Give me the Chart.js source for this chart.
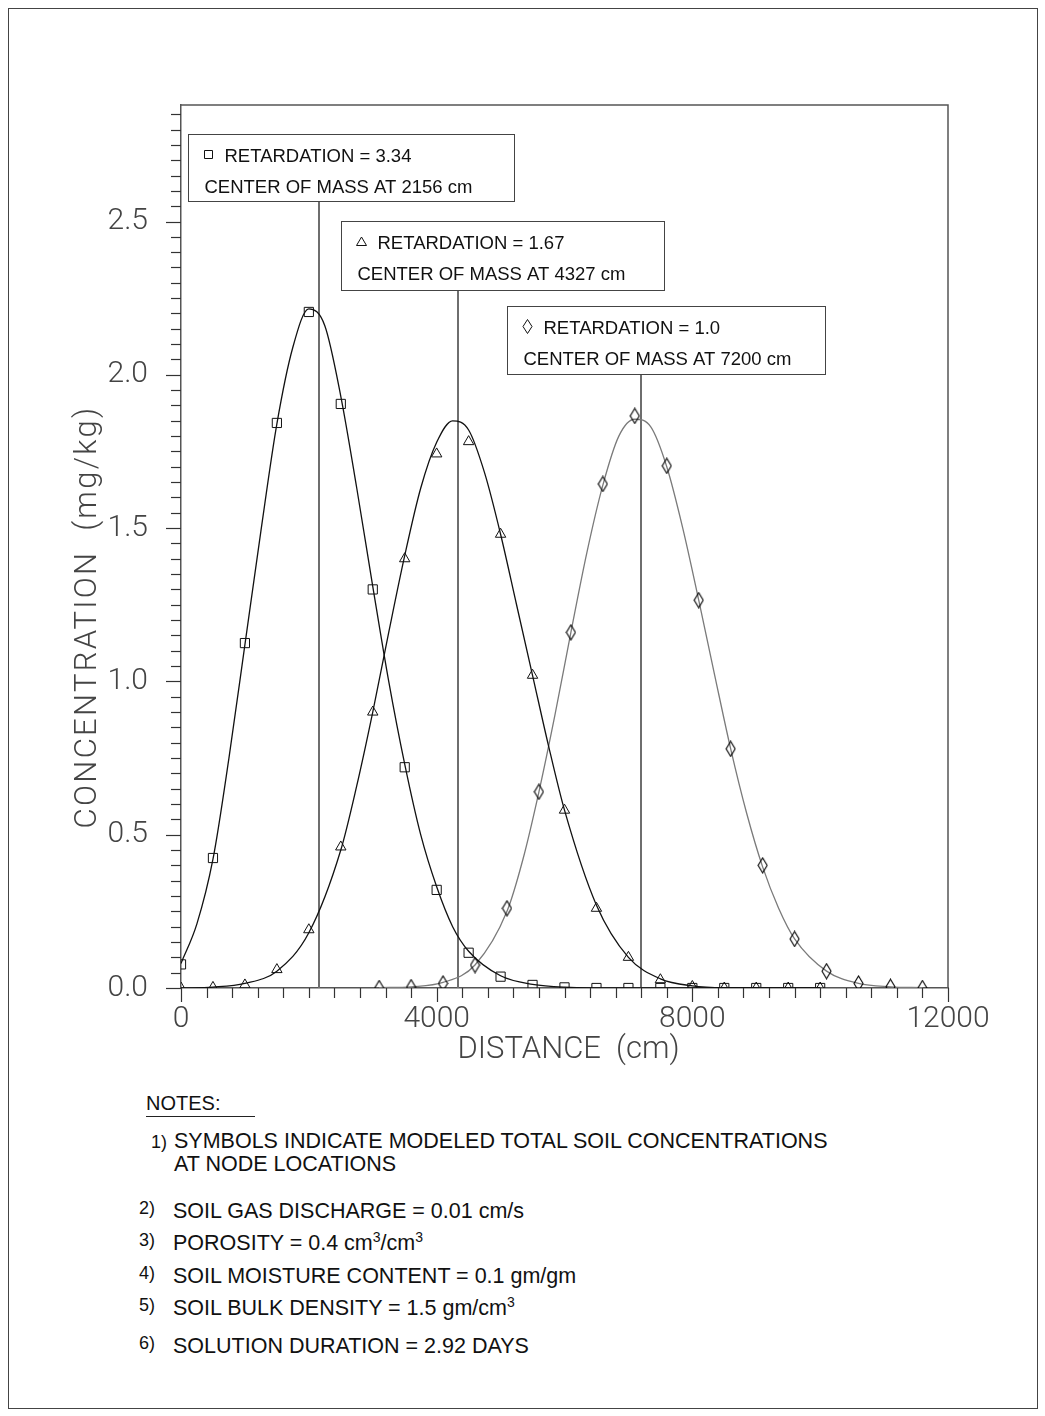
<!DOCTYPE html>
<html>
<head>
<meta charset="utf-8">
<script src="https://cdn.jsdelivr.net/npm/chart.js@4.4.1/dist/chart.umd.min.js"></script>
<style>
  body { margin: 0; background: #fff; width: 1045px; height: 1416px; position: relative;
         font-family: "Liberation Sans", Arial, sans-serif; color: #111; }
  #frame { position: absolute; left: 8px; top: 8px; width: 1028px; height: 1399px; border: 1px solid #444; }
  #wrap { position: absolute; left: 0; top: 0; width: 1045px; height: 1080px; }
  .note { position: absolute; font-size: 21.5px; line-height: 21px; white-space: nowrap; }
  .num { position: absolute; font-size: 18px; line-height: 18px; }
  sup { font-size: 14px; vertical-align: 8px; line-height: 0; }
  #notes-head { position: absolute; left: 146px; top: 1093px; font-size: 20px; line-height: 20px;
                width: 109px; border-bottom: 1px solid #222; padding-bottom: 3px; }
</style>
</head>
<body>
<div id="frame"></div>
<div id="wrap"><canvas id="chart-conc" width="1045" height="1080"></canvas></div>

<div id="notes-head">NOTES:</div>
<div class="num" style="left:151px; top:1133px">1)</div>
<div class="note" style="left:174px; top:1131px">SYMBOLS INDICATE MODELED TOTAL SOIL CONCENTRATIONS</div>
<div class="note" style="left:174px; top:1154px">AT NODE LOCATIONS</div>
<div class="num" style="left:139px; top:1199px">2)</div>
<div class="note" style="left:173px; top:1201px">SOIL GAS DISCHARGE = 0.01 cm/s</div>
<div class="num" style="left:139px; top:1231px">3)</div>
<div class="note" style="left:173px; top:1233px">POROSITY = 0.4 cm<sup>3</sup>/cm<sup>3</sup></div>
<div class="num" style="left:139px; top:1264px">4)</div>
<div class="note" style="left:173px; top:1266px">SOIL MOISTURE CONTENT = 0.1 gm/gm</div>
<div class="num" style="left:139px; top:1296px">5)</div>
<div class="note" style="left:173px; top:1298px">SOIL BULK DENSITY = 1.5 gm/cm<sup>3</sup></div>
<div class="num" style="left:139px; top:1334px">6)</div>
<div class="note" style="left:173px; top:1336px">SOLUTION DURATION = 2.92 DAYS</div>

<script>
// Data Start
// symbols: modeled concentrations at node locations (mg/kg)
const squareX = [0, 500, 1000, 1500, 2000, 2500, 3000, 3500, 4000, 4500, 5000, 5500, 6000, 6500, 7000, 7500, 8000, 8500, 9000, 9500, 10000];
const squareY = [0.077, 0.424, 1.125, 1.843, 2.205, 1.905, 1.30, 0.72, 0.32, 0.115, 0.037, 0.01, 0.002, 0, 0, 0, 0, 0, 0, 0, 0];

const triangleX = [0, 500, 1000, 1500, 2000, 2500, 3000, 3500, 4000, 4500, 5000, 5500, 6000, 6500, 7000, 7500, 8000, 8500, 9000, 9500, 10000];
const triangleY = [0, 0.002, 0.01, 0.06, 0.19, 0.46, 0.90, 1.40, 1.742, 1.782, 1.48, 1.02, 0.58, 0.26, 0.10, 0.027, 0.005, 0, 0, 0, 0];

const diamondX = [3100, 3600, 4100, 4600, 5100, 5600, 6100, 6600, 7100, 7600, 8100, 8600, 9100, 9600, 10100, 10600, 11100, 11600];
const diamondY = [0, 0.003, 0.015, 0.075, 0.26, 0.64, 1.16, 1.644, 1.866, 1.703, 1.265, 0.78, 0.40, 0.16, 0.055, 0.015, 0.004, 0];

// curves
const squareCurveX = [0, 250, 500, 750, 1000, 1250, 1500, 1750, 2000, 2250, 2500, 2750, 3000, 3250, 3500, 3750, 4000, 4250, 4500, 5000, 5500, 6000, 7000, 8000, 9000, 10000];
const squareCurveY = [0.08, 0.21, 0.42, 0.75, 1.12, 1.49, 1.84, 2.09, 2.215, 2.16, 1.93, 1.63, 1.31, 1.00, 0.73, 0.50, 0.33, 0.20, 0.12, 0.04, 0.012, 0.003, 0, 0, 0, 0];

const triangleCurveX = [0, 500, 1000, 1500, 2000, 2500, 2750, 3000, 3250, 3500, 3750, 4000, 4250, 4500, 4750, 5000, 5250, 5500, 5750, 6000, 6500, 7000, 7500, 8000, 8500, 10000];
const triangleCurveY = [0, 0.003, 0.015, 0.055, 0.18, 0.45, 0.66, 0.90, 1.16, 1.41, 1.63, 1.78, 1.85, 1.82, 1.68, 1.48, 1.25, 1.02, 0.79, 0.58, 0.27, 0.10, 0.03, 0.007, 0.001, 0];

const diamondCurveX = [3100, 3600, 4100, 4600, 5100, 5350, 5600, 5850, 6100, 6350, 6600, 6850, 7100, 7350, 7600, 7850, 8100, 8350, 8600, 8850, 9100, 9350, 9600, 10100, 10600, 11100, 11600];
const diamondCurveY = [0.001, 0.004, 0.018, 0.075, 0.25, 0.42, 0.64, 0.89, 1.16, 1.42, 1.64, 1.80, 1.855, 1.83, 1.70, 1.50, 1.265, 1.02, 0.78, 0.57, 0.395, 0.26, 0.16, 0.055, 0.015, 0.004, 0.001];

const retardation = ["3.34", "1.67", "1.0"];
const centerOfMass = [2156, 4327, 7200];

// tick labels
const xTickValues = [0, 4000, 8000, 12000];
const yTickValues = [0, 0.5, 1.0, 1.5, 2.0, 2.5];
// Data End

// label boxes (axis units) - layout only
const boxes = [
    { left: 110, right: 5210, top: 2.786, bottom: 2.567, symbol: "square" },
    { left: 2503, right: 7557, top: 2.502, bottom: 2.277, symbol: "triangle" },
    { left: 5100, right: 10076, top: 2.225, bottom: 2.003, symbol: "diamond" },
];

const pts = (xs, ys) => xs.map((x, i) => ({ x: x, y: ys[i] }));

// diamond marker (taller than wide)
const diamondMark = document.createElement("canvas");
diamondMark.width = 11;
diamondMark.height = 17;
(function () {
    const c = diamondMark.getContext("2d");
    c.strokeStyle = "#000";
    c.lineWidth = 1.1;
    c.beginPath();
    c.moveTo(5.5, 1);
    c.lineTo(10, 8.5);
    c.lineTo(5.5, 16);
    c.lineTo(1, 8.5);
    c.closePath();
    c.stroke();
})();

function drawSymbol(ctx, kind, x, y) {
    ctx.save();
    ctx.strokeStyle = "#111";
    ctx.lineWidth = 1;
    ctx.beginPath();
    if (kind === "square") {
        ctx.rect(x - 4, y - 4, 8, 8);
    } else if (kind === "triangle") {
        ctx.moveTo(x, y - 4.5);
        ctx.lineTo(x + 5, y + 4);
        ctx.lineTo(x - 5, y + 4);
        ctx.closePath();
    } else {
        ctx.moveTo(x, y - 7);
        ctx.lineTo(x + 4.5, y);
        ctx.lineTo(x, y + 7);
        ctx.lineTo(x - 4.5, y);
        ctx.closePath();
    }
    ctx.stroke();
    ctx.restore();
}

const decorations = {
    id: "decorations",
    beforeDatasetsDraw(chart) {
        const { ctx, scales: { x, y } } = chart;
        // center of mass lines
        ctx.save();
        ctx.strokeStyle = "#6e6e6e";
        ctx.lineWidth = 2;
        centerOfMass.forEach((c, i) => {
            const px = Math.round(x.getPixelForValue(c));
            ctx.beginPath();
            ctx.moveTo(px, y.getPixelForValue(0));
            ctx.lineTo(px, y.getPixelForValue(boxes[i].bottom));
            ctx.stroke();
        });
        ctx.restore();
    },
    afterDraw(chart) {
        const { ctx, chartArea: a, scales: { x, y } } = chart;
        ctx.save();
        // frame top / right
        ctx.strokeStyle = "#555";
        ctx.lineWidth = 1.5;
        ctx.beginPath();
        ctx.moveTo(a.left, a.top);
        ctx.lineTo(a.right, a.top);
        ctx.lineTo(a.right, a.bottom);
        ctx.stroke();

        // ticks
        ctx.strokeStyle = "#333";
        ctx.lineWidth = 1.2;
        for (let k = 0; k * 0.05 <= y.max + 1e-9; k++) {
            const py = Math.round(y.getPixelForValue(k * 0.05)) + 0.5;
            const len = k % 10 === 0 ? 15 : 10;
            ctx.beginPath();
            ctx.moveTo(a.left, py);
            ctx.lineTo(a.left - len, py);
            ctx.stroke();
        }
        for (let k = 0; k * 400 <= x.max; k++) {
            const px = Math.round(x.getPixelForValue(k * 400)) + 0.5;
            const len = k % 10 === 0 ? 14 : 10;
            ctx.beginPath();
            ctx.moveTo(px, a.bottom);
            ctx.lineTo(px, a.bottom + len);
            ctx.stroke();
        }

        // axis titles
        ctx.fillStyle = "#444";
        ctx.textAlign = "center";
        ctx.textBaseline = "middle";
        ctx.font = "300 31px Roboto";
        ctx.letterSpacing = "0px";
        ctx.fillText("DISTANCE  (cm)", (a.left + a.right) / 2 + 4, 1050);
        ctx.letterSpacing = "2.3px";
        ctx.translate(88, 617);
        ctx.rotate(-Math.PI / 2);
        ctx.fillText("CONCENTRATION  (mg/kg)", 0, 0);
        ctx.restore();

        // label boxes
        ctx.save();
        boxes.forEach((b, i) => {
            const l = Math.round(x.getPixelForValue(b.left)) + 0.5;
            const r = Math.round(x.getPixelForValue(b.right)) + 0.5;
            const t = Math.round(y.getPixelForValue(b.top)) + 0.5;
            const btm = Math.round(y.getPixelForValue(b.bottom)) + 0.5;
            ctx.fillStyle = "#fff";
            ctx.fillRect(l, t, r - l, btm - t);
            ctx.strokeStyle = "#444";
            ctx.lineWidth = 1;
            ctx.strokeRect(l, t, r - l, btm - t);
            drawSymbol(ctx, b.symbol, l + 20, t + 20);
            ctx.fillStyle = "#111";
            ctx.font = "18.5px 'Liberation Sans'";
            ctx.textBaseline = "alphabetic";
            ctx.textAlign = "left";
            ctx.fillText("RETARDATION = " + retardation[i], l + 36, t + 27);
            ctx.fillText("CENTER OF MASS AT " + centerOfMass[i] + " cm", l + 16, t + 58);
        });
        ctx.restore();
    },
};

const conc = document.getElementById("chart-conc");

new Chart(conc, {
    type: "scatter",
    data: {
        datasets: [
            {
                label: "R 3.34",
                data: pts(squareX, squareY),
                pointStyle: "rect",
                pointRadius: 6.5,
                borderColor: "#111",
                backgroundColor: "rgba(0,0,0,0)",
                borderWidth: 1,
            },
            {
                label: "R 1.67",
                data: pts(triangleX, triangleY),
                pointStyle: "triangle",
                pointRadius: 6,
                borderColor: "#111",
                backgroundColor: "rgba(0,0,0,0)",
                borderWidth: 1,
            },
            {
                label: "R 1.0",
                data: pts(diamondX, diamondY),
                pointStyle: diamondMark,
                pointRadius: 6,
            },
            {
                label: "curve 3.34",
                data: pts(squareCurveX, squareCurveY),
                showLine: true,
                pointRadius: 0,
                borderColor: "#111",
                borderWidth: 1.3,
                cubicInterpolationMode: "monotone",
            },
            {
                label: "curve 1.67",
                data: pts(triangleCurveX, triangleCurveY),
                showLine: true,
                pointRadius: 0,
                borderColor: "#111",
                borderWidth: 1.3,
                cubicInterpolationMode: "monotone",
            },
            {
                label: "curve 1.0",
                data: pts(diamondCurveX, diamondCurveY),
                showLine: true,
                pointRadius: 0,
                borderColor: "#7a7a7a",
                borderWidth: 1.3,
                cubicInterpolationMode: "monotone",
            },
        ],
    },
    options: {
        responsive: false,
        animation: false,
        devicePixelRatio: 1,
        layout: { padding: { top: 105, right: 97, left: 0, bottom: 0 } },
        plugins: {
            legend: { display: false },
            tooltip: { enabled: false },
        },
        scales: {
            x: {
                type: "linear",
                min: 0,
                max: 12000,
                afterBuildTicks: (s) => { s.ticks = xTickValues.map((v) => ({ value: v })); },
                afterFit: (s) => { s.height = 92; },
                grid: { display: false, drawTicks: false },
                border: { color: "#555", width: 1.5 },
                ticks: {
                    padding: 13,
                    color: "#444",
                    font: { family: "Roboto", size: 30, weight: 300 },
                    callback: (v) => String(v),
                },
            },
            y: {
                type: "linear",
                min: 0,
                max: 2.88,
                afterBuildTicks: (s) => { s.ticks = yTickValues.map((v) => ({ value: v })); },
                afterFit: (s) => { s.width = 181; },
                grid: { display: false, drawTicks: false },
                border: { color: "#555", width: 1.5 },
                ticks: {
                    padding: 33,
                    color: "#444",
                    font: { family: "Roboto", size: 30, weight: 300 },
                    callback: (v) => v.toFixed(1),
                },
            },
        },
    },
    plugins: [decorations],
});
</script>
</body>
</html>
